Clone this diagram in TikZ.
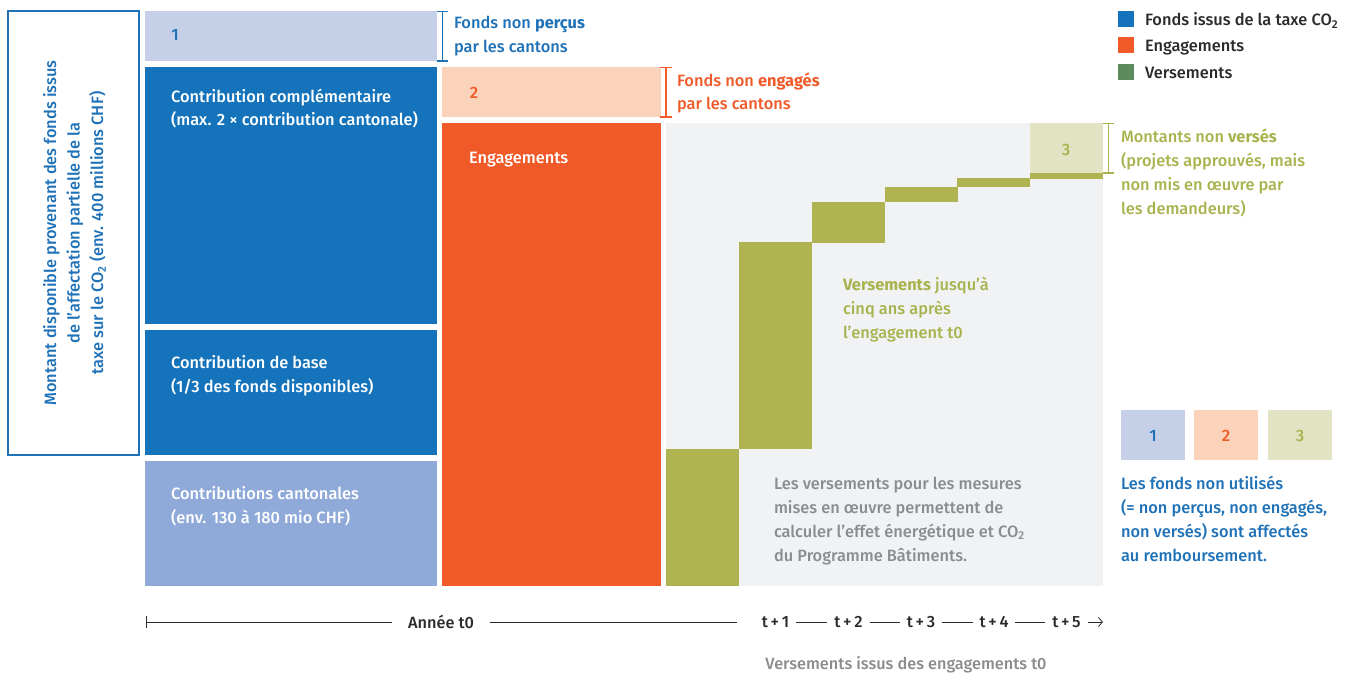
\documentclass[tikz,border=0pt]{standalone}
\usepackage{fontspec}
\setmainfont{Fira Sans}[UprightFont={* Medium}, BoldFont={* Bold}]
\usetikzlibrary{arrows.meta}
\definecolor{bdark}{HTML}{1473BA}
\definecolor{blight}{HTML}{C5D0E8}
\definecolor{bcant}{HTML}{8FA9D8}
\definecolor{btext}{HTML}{1F72B8}
\definecolor{orng}{HTML}{F05A28}
\definecolor{peach}{HTML}{FAD3BA}
\definecolor{gbg}{HTML}{F1F2F4}
\definecolor{grn}{HTML}{B0B450}
\definecolor{pgrn}{HTML}{E1E3C3}
\definecolor{gtext}{HTML}{A8B34E}
\definecolor{lgrn}{HTML}{5E8B5E}
\definecolor{gray}{HTML}{8A8C8E}
\definecolor{dark}{HTML}{2B2B2B}
\newcommand\para[2][24pt]{\parbox[t]{10cm}{\raggedright\baselineskip=#1\relax #2}}
\newcommand\cotwo{CO\textsubscript{2}}
\begin{document}
\begin{tikzpicture}[x=1pt,y=-1pt,
  every node/.style={inner sep=0pt, outer sep=0pt},
  blk/.style={anchor=north west, minimum width=#1},
  txt/.style={anchor=base west, font=\fontsize{16.4}{24}\selectfont},
  num/.style={anchor=base, font=\fontsize{16.5}{24}\selectfont},
  tl/.style={font=\fontsize{16.3}{18}\selectfont},
  brk/.style={line width=1.1pt}]
\useasboundingbox (0,0) rectangle (1349,677);
\fill[white] (0,0) rectangle (1349,677);
% left label box
\node[draw=btext, line width=1.1pt, anchor=north west, minimum width=131, minimum height=444] (lab) at (8,11) {};
\node[rotate=90, align=center, text=btext, font=\fontsize{16.4}{23.5}\selectfont] (labt) at ([xshift=1pt]lab.center)
 {Montant disponible provenant des fonds issus\\ de l’affectation partielle de la\\ taxe sur le \cotwo{} (env. 400 millions CHF)};
% column 1
\node[blk=292, minimum height=50, fill=blight] (b1) at (145,11) {};
\node[blk=292, minimum height=257, fill=bdark] (bc) at (145,67) {};
\node[blk=292, minimum height=125, fill=bdark] (bb) at (145,330) {};
\node[blk=292, minimum height=125, fill=bcant] (bk) at (145,461) {};
\node[num, text=btext] (n1) at (175,41) {1};
\node[txt, text=white] (tc) at (171,102) {\para{Contribution complémentaire\\(max. 2 × contribution cantonale)}};
\node[txt, text=white] (tb) at (171,368) {\para{Contribution de base\\(1/3 des fonds disponibles)}};
\node[txt, text=white] (tk) at (171,499) {\para{Contributions cantonales\\(env. 130 à 180 mio CHF)}};
% bracket 1
\draw[brk, btext] (437,11.5) -- (448,11.5) (442.5,11.5) -- (442.5,61) (437,61) -- (448,61);
\node[txt, text=btext] (t1) at (454,29) {\para{Fonds non \textbf{perçus}\\par les cantons}};
% column 2
\node[blk=219, minimum height=50, fill=peach] (b2) at (442,67) {};
\node[blk=219, minimum height=463, fill=orng] (be) at (442,123) {};
\node[num, text=orng] (n2) at (474,99) {2};
\node[txt, text=white] (te) at (469,163) {Engagements};
\draw[brk, orng] (660,67.5) -- (672,67.5) (666,67.5) -- (666,117) (660,117) -- (672,117);
\node[txt, text=orng] (t2) at (677,86) {\para{Fonds non \textbf{engagés}\\par les cantons}};
% column 3
\node[blk=437, minimum height=463, fill=gbg] (bg) at (666,123) {};
\node[blk=73, minimum height=137, fill=grn] (s1) at (666,449) {};
\node[blk=73, minimum height=207, fill=grn] (s2) at (739,242) {};
\node[blk=73, minimum height=41, fill=grn] (s3) at (812,202) {};
\node[blk=73, minimum height=15, fill=grn] (s4) at (885,187) {};
\node[blk=73, minimum height=9, fill=grn] (s5) at (957,178) {};
\node[blk=73, minimum height=6, fill=grn] (s6) at (1030,173) {};
\node[blk=73, minimum height=50, fill=pgrn] (b3) at (1030,123) {};
\node[num, text=gtext] (n3) at (1066,155) {3};
\draw[brk, gtext] (1103,123.5) -- (1114,123.5) (1108.5,123.5) -- (1108.5,173) (1103,173) -- (1114,173);
\node[txt, text=gtext] (t3) at (1121,142) {\para{Montants non \textbf{versés}\\(projets approuvés, mais\\non mis en œuvre par\\les demandeurs)}};
\node[txt, text=gtext] (tv) at (843,290) {\para{\textbf{Versements} jusqu’à\\cinq ans après\\l’engagement t0}};
\node[txt, text=gray] (tl) at (774,489) {\para{Les versements pour les mesures\\mises en œuvre permettent de\\calculer l’effet énergétique et \cotwo\\du Programme Bâtiments.}};
% legend
\node[blk=16, minimum height=16, fill=bdark] (l1) at (1118,11) {};
\node[blk=16, minimum height=16, fill=orng] (l2) at (1118,37) {};
\node[blk=16, minimum height=16, fill=lgrn] (l3) at (1118,64) {};
\node[txt, text=dark] (lt1) at (1145,26) {Fonds issus de la taxe \cotwo};
\node[txt, text=dark] (lt2) at (1145,52) {Engagements};
\node[txt, text=dark] (lt3) at (1145,78) {Versements};
% bottom right boxes
\node[blk=64, minimum height=50, fill=blight] (r1) at (1121,410) {};
\node[blk=64, minimum height=50, fill=peach] (r2) at (1194,410) {};
\node[blk=64, minimum height=50, fill=pgrn] (r3) at (1268,410) {};
\node[num, text=btext] at (r1.center |- 0,441) {1};
\node[num, text=orng] at (r2.center |- 0,441) {2};
\node[num, text=gtext] at (r3.center |- 0,441) {3};
\node[txt, text=btext] (tr) at (1121,489) {\para{Les fonds non utilisés\\(= non perçus, non engagés,\\non versés) sont affectés\\au remboursement.}};
% timeline
\coordinate (ts) at (146,622);
\node[text=dark, tl] (ta) at (441,622) {Année t0};
\node[text=dark, tl] (y1) at (775.5,622) {t\,+\,1};
\node[text=dark, tl] (y2) at (848.5,622) {t\,+\,2};
\node[text=dark, tl] (y3) at (921,622) {t\,+\,3};
\node[text=dark, tl] (y4) at (994,622) {t\,+\,4};
\node[text=dark, tl] (y5) at (1066.5,622) {t\,+\,5};
\coordinate (te5) at (1103,622);
\draw[dark, line width=0.8pt] (ts) ++(0,-6) -- ++(0,12);
\draw[dark, line width=0.8pt] (ts) -- ([xshift=-16pt]ta.west);
\draw[dark, line width=0.8pt] ([xshift=16pt]ta.east) -- (737,622);
\foreach \a/\b in {y1/y2,y2/y3,y3/y4,y4/y5}
  \draw[dark, line width=0.8pt] ([xshift=7pt]\a.east) -- ([xshift=-7pt]\b.west);
\draw[dark, line width=0.8pt, -{Straight Barb[length=4pt,width=9pt]}] ([xshift=7pt]y5.east) -- (te5);
\node[text=gray, tl, anchor=base] (tvi) at (906,669) {Versements issus des engagements t0};
\end{tikzpicture}
\end{document}
